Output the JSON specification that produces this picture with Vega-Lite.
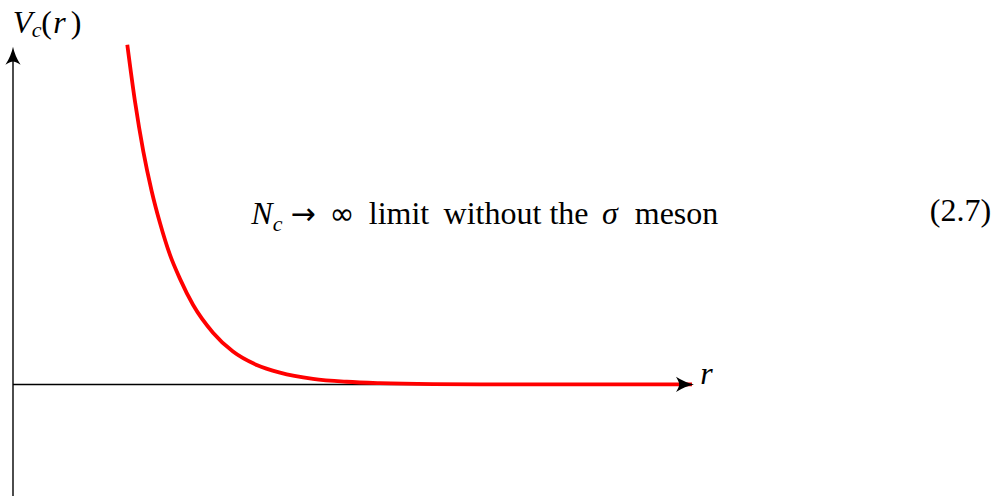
{
  "$schema": "https://vega.github.io/schema/vega-lite/v6.json",
  "width": 993,
  "height": 497,
  "autosize": {"type": "fit", "contains": "padding"},
  "padding": 0,
  "background": "white",
  "config": {"view": {"stroke": null}},
  "datasets": {
    "curve": [
      {"r": 1.143, "v": 3.41},
      {"r": 1.22, "v": 2.84},
      {"r": 1.303, "v": 2.34},
      {"r": 1.387, "v": 1.94},
      {"r": 1.47, "v": 1.62},
      {"r": 1.57, "v": 1.3},
      {"r": 1.67, "v": 1.06},
      {"r": 1.8, "v": 0.8},
      {"r": 2.0, "v": 0.52},
      {"r": 2.2, "v": 0.33},
      {"r": 2.437, "v": 0.195},
      {"r": 2.67, "v": 0.118},
      {"r": 3.0, "v": 0.056},
      {"r": 3.337, "v": 0.027},
      {"r": 3.67, "v": 0.013},
      {"r": 4.2, "v": 0.004},
      {"r": 5.0, "v": 0.001},
      {"r": 6.0, "v": 0.0002},
      {"r": 6.79, "v": 0.0}
    ],
    "axes": [
      {"r": 0, "r2": 6.76, "v": 0, "v2": 0},
      {"r": 0, "r2": 0, "v": -1.12, "v2": 3.34}
    ],
    "heads": [
      {"r": 6.81, "v": 0, "dir": 0},
      {"r": 0, "v": 3.39, "dir": -90}
    ],
    "labels": [
      {"text": "V", "r": 0.095, "v": 3.53, "style": "it"},
      {"text": "c", "r": 0.235, "v": 3.49, "style": "sub"},
      {"text": "(", "r": 0.335, "v": 3.53, "style": "rm"},
      {"text": "r", "r": 0.465, "v": 3.53, "style": "it"},
      {"text": ")", "r": 0.63, "v": 3.53, "style": "rm"},
      {"text": "r", "r": 6.935, "v": 0.0, "style": "it"},
      {"text": "N", "r": 2.49, "v": 1.61, "style": "it"},
      {"text": "c", "r": 2.645, "v": 1.54, "style": "sub"},
      {"text": "→", "r": 2.9, "v": 1.61, "style": "sym"},
      {"text": "∞", "r": 3.29, "v": 1.61, "style": "sym"},
      {"text": "limit", "r": 3.86, "v": 1.61, "style": "rm"},
      {"text": "without", "r": 4.795, "v": 1.61, "style": "rm"},
      {"text": "the", "r": 5.56, "v": 1.61, "style": "rm"},
      {"text": "σ", "r": 5.97, "v": 1.61, "style": "it"},
      {"text": "meson", "r": 6.635, "v": 1.61, "style": "rm"},
      {"text": "(2.7)", "r": 9.475, "v": 1.64, "style": "rm"}
    ]
  },
  "encoding": {
    "x": {"field": "r", "type": "quantitative", "scale": {"domain": [-0.13, 9.8], "nice": false, "zero": false}, "axis": null},
    "y": {"field": "v", "type": "quantitative", "scale": {"domain": [-1.11, 3.86], "nice": false, "zero": false}, "axis": null}
  },
  "layer": [
    {
      "data": {"name": "axes"},
      "mark": {"type": "rule", "color": "black", "strokeWidth": 1.4},
      "encoding": {
        "x2": {"field": "r2"},
        "y2": {"field": "v2"}
      }
    },
    {
      "data": {"name": "curve"},
      "mark": {"type": "line", "color": "#ff0000", "strokeWidth": 3.8, "interpolate": "monotone", "strokeCap": "butt"},
      "encoding": {}
    },
    {
      "data": {"name": "heads"},
      "mark": {
        "type": "point",
        "filled": true,
        "color": "black",
        "opacity": 1,
        "size": 1300,
        "shape": "M0,0 Q-0.5,-0.1 -1,-0.42 Q-0.82,-0.12 -0.82,0 Q-0.82,0.12 -1,0.42 Q-0.5,0.1 0,0 Z"
      },
      "encoding": {
        "angle": {"field": "dir", "type": "quantitative", "scale": null}
      }
    },
    {
      "data": {"name": "labels"},
      "transform": [{"filter": "datum.style === 'rm'"}],
      "mark": {"type": "text", "font": "Liberation Serif", "fontSize": 32, "align": "center", "baseline": "alphabetic", "color": "black"},
      "encoding": {"text": {"field": "text"}}
    },
    {
      "data": {"name": "labels"},
      "transform": [{"filter": "datum.style === 'sym'"}],
      "mark": {"type": "text", "font": "DejaVu Sans", "fontSize": 30, "align": "center", "baseline": "alphabetic", "color": "black"},
      "encoding": {"text": {"field": "text"}}
    },
    {
      "data": {"name": "labels"},
      "transform": [{"filter": "datum.style === 'it'"}],
      "mark": {"type": "text", "font": "Liberation Serif", "fontSize": 32, "fontStyle": "italic", "align": "center", "baseline": "alphabetic", "color": "black"},
      "encoding": {"text": {"field": "text"}}
    },
    {
      "data": {"name": "labels"},
      "transform": [{"filter": "datum.style === 'sub'"}],
      "mark": {"type": "text", "font": "Liberation Serif", "fontSize": 22, "fontStyle": "italic", "align": "center", "baseline": "alphabetic", "color": "black"},
      "encoding": {"text": {"field": "text"}}
    }
  ]
}
